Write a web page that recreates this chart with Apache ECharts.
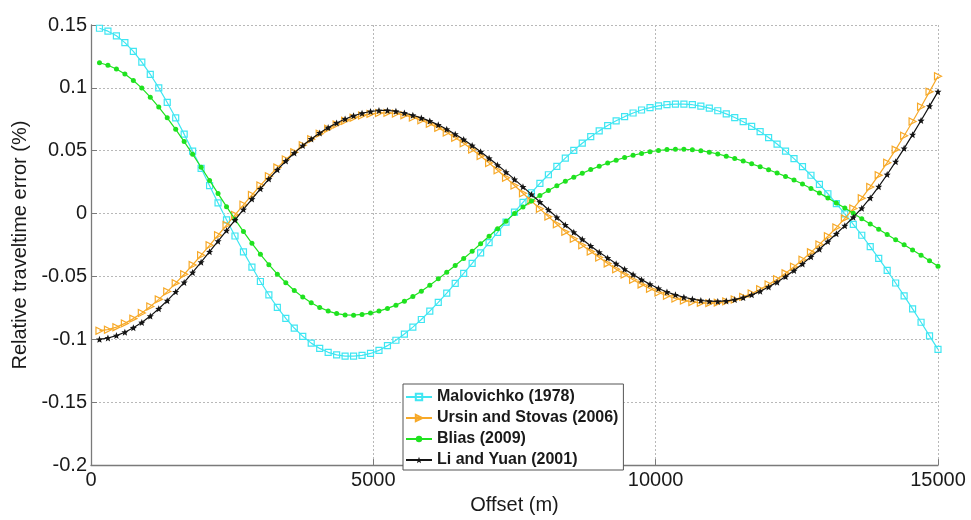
<!DOCTYPE html>
<html>
<head>
<meta charset="utf-8">
<title>Relative traveltime error</title>
<script src="https://cdn.jsdelivr.net/npm/echarts@6/dist/echarts.min.js"></script>
<style>
  html, body { margin: 0; padding: 0; background: #fff; overflow: hidden; }
  #chart { width: 971px; height: 520px; }
</style>
</head>
<body>
<div id="chart"></div>
<script>
// Offsets (m) at which each approximation was evaluated
const offsets = [
  150, 300, 450, 600, 750, 900, 1050, 1200, 1350, 1500,
  1650, 1800, 1950, 2100, 2250, 2400, 2550, 2700, 2850, 3000,
  3150, 3300, 3450, 3600, 3750, 3900, 4050, 4200, 4350, 4500,
  4650, 4800, 4950, 5100, 5250, 5400, 5550, 5700, 5850, 6000,
  6150, 6300, 6450, 6600, 6750, 6900, 7050, 7200, 7350, 7500,
  7650, 7800, 7950, 8100, 8250, 8400, 8550, 8700, 8850, 9000,
  9150, 9300, 9450, 9600, 9750, 9900, 10050, 10200, 10350, 10500,
  10650, 10800, 10950, 11100, 11250, 11400, 11550, 11700, 11850, 12000,
  12150, 12300, 12450, 12600, 12750, 12900, 13050, 13200, 13350, 13500,
  13650, 13800, 13950, 14100, 14250, 14400, 14550, 14700, 14850, 15000
];

// Relative traveltime error (%) for each approximation
const malovichko = [
  0.1474, 0.1451, 0.1414, 0.1360, 0.1290, 0.1205, 0.1108, 0.1000, 0.0884, 0.0761,
  0.0632, 0.0497, 0.0360, 0.0222, 0.0085, -0.0049, -0.0178, -0.0304, -0.0425, -0.0540,
  -0.0647, -0.0745, -0.0833, -0.0910, -0.0976, -0.1030, -0.1072, -0.1103, -0.1123, -0.1133,
  -0.1134, -0.1127, -0.1112, -0.1088, -0.1050, -0.1007, -0.0958, -0.0903, -0.0842, -0.0776,
  -0.0706, -0.0632, -0.0555, -0.0476, -0.0395, -0.0313, -0.0231, -0.0149, -0.0068, 0.0012,
  0.0090, 0.0166, 0.0240, 0.0309, 0.0376, 0.0441, 0.0503, 0.0560, 0.0612, 0.0658,
  0.0700, 0.0738, 0.0771, 0.0800, 0.0824, 0.0843, 0.0857, 0.0866, 0.0871, 0.0871,
  0.0866, 0.0855, 0.0839, 0.0818, 0.0793, 0.0764, 0.0731, 0.0694, 0.0652, 0.0605,
  0.0553, 0.0497, 0.0437, 0.0373, 0.0305, 0.0233, 0.0158, 0.0080, -0.0002, -0.0086,
  -0.0172, -0.0262, -0.0356, -0.0452, -0.0552, -0.0654, -0.0758, -0.0864, -0.0972, -0.1080
];

const ursinStovas = [
  -0.0931, -0.0923, -0.0903, -0.0873, -0.0835, -0.0790, -0.0739, -0.0682, -0.0620, -0.0553,
  -0.0482, -0.0408, -0.0331, -0.0252, -0.0172, -0.0091, -0.0010, 0.0070, 0.0148, 0.0224,
  0.0297, 0.0366, 0.0430, 0.0489, 0.0543, 0.0592, 0.0636, 0.0675, 0.0709, 0.0738,
  0.0762, 0.0780, 0.0793, 0.0800, 0.0801, 0.0796, 0.0783, 0.0765, 0.0742, 0.0714,
  0.0682, 0.0645, 0.0604, 0.0559, 0.0510, 0.0458, 0.0403, 0.0345, 0.0285, 0.0224,
  0.0162, 0.0100, 0.0038, -0.0024, -0.0085, -0.0145, -0.0200, -0.0252, -0.0302, -0.0349,
  -0.0396, -0.0442, -0.0485, -0.0526, -0.0563, -0.0597, -0.0627, -0.0653, -0.0675, -0.0692,
  -0.0703, -0.0710, -0.0712, -0.0708, -0.0698, -0.0683, -0.0662, -0.0635, -0.0602, -0.0564,
  -0.0522, -0.0475, -0.0423, -0.0367, -0.0308, -0.0245, -0.0180, -0.0111, -0.0038, 0.0040,
  0.0123, 0.0212, 0.0306, 0.0405, 0.0509, 0.0619, 0.0733, 0.0850, 0.0970, 0.1092
];

const blias = [
  0.1200, 0.1180, 0.1150, 0.1110, 0.1059, 0.0998, 0.0926, 0.0847, 0.0762, 0.0670,
  0.0573, 0.0472, 0.0369, 0.0264, 0.0159, 0.0055, -0.0046, -0.0143, -0.0236, -0.0324,
  -0.0406, -0.0482, -0.0550, -0.0611, -0.0664, -0.0709, -0.0746, -0.0775, -0.0795, -0.0806,
  -0.0808, -0.0802, -0.0791, -0.0775, -0.0754, -0.0728, -0.0697, -0.0660, -0.0618, -0.0570,
  -0.0519, -0.0466, -0.0412, -0.0357, -0.0300, -0.0240, -0.0180, -0.0120, -0.0060, 0.0000,
  0.0052, 0.0100, 0.0144, 0.0184, 0.0221, 0.0257, 0.0290, 0.0321, 0.0350, 0.0377,
  0.0402, 0.0425, 0.0446, 0.0464, 0.0479, 0.0492, 0.0502, 0.0509, 0.0512, 0.0512,
  0.0508, 0.0500, 0.0489, 0.0474, 0.0457, 0.0438, 0.0418, 0.0396, 0.0373, 0.0349,
  0.0323, 0.0296, 0.0267, 0.0235, 0.0200, 0.0163, 0.0125, 0.0085, 0.0044, 0.0002,
  -0.0040, -0.0083, -0.0125, -0.0166, -0.0207, -0.0247, -0.0289, -0.0331, -0.0374, -0.0418
];

const liYuan = [
  -0.1000, -0.0989, -0.0970, -0.0943, -0.0908, -0.0866, -0.0815, -0.0757, -0.0692, -0.0622,
  -0.0547, -0.0468, -0.0386, -0.0303, -0.0219, -0.0135, -0.0051, 0.0033, 0.0116, 0.0197,
  0.0275, 0.0349, 0.0418, 0.0482, 0.0541, 0.0594, 0.0642, 0.0684, 0.0721, 0.0752,
  0.0778, 0.0798, 0.0812, 0.0820, 0.0821, 0.0814, 0.0800, 0.0782, 0.0761, 0.0736,
  0.0706, 0.0671, 0.0632, 0.0589, 0.0542, 0.0492, 0.0440, 0.0386, 0.0330, 0.0272,
  0.0213, 0.0153, 0.0092, 0.0031, -0.0030, -0.0090, -0.0148, -0.0204, -0.0257, -0.0307,
  -0.0352, -0.0398, -0.0442, -0.0484, -0.0525, -0.0562, -0.0595, -0.0623, -0.0646, -0.0665,
  -0.0680, -0.0691, -0.0697, -0.0698, -0.0694, -0.0684, -0.0668, -0.0646, -0.0618, -0.0584,
  -0.0545, -0.0501, -0.0453, -0.0400, -0.0343, -0.0283, -0.0222, -0.0160, -0.0096, -0.0029,
  0.0043, 0.0125, 0.0214, 0.0311, 0.0413, 0.0519, 0.0628, 0.0740, 0.0855, 0.0970
];

const seriesNames = [
  'Malovichko (1978)',
  'Ursin and Stovas (2006)',
  'Blias (2009)',
  'Li and Yuan (2001)'
];

// Axis ranges and tick steps
const xTicks = [0, 5000, 10000, 15000];
const yTicks = [-0.2, -0.15, -0.1, -0.05, 0, 0.05, 0.1, 0.15];

const CYAN = '#3fe6f2';
const ORANGE = '#f7a928';
const GREEN = '#1fe21f';
const BLACK = '#141414';
const FONT = '"Liberation Sans", Arial, sans-serif';

function pairs(values) {
  return offsets.map((x, i) => [x, values[i]]);
}

const STAR = 'path://M0,-10 L2.6,-3.4 L9.5,-3.1 L4.2,1.3 L5.9,8.1 L0,4.3 L-5.9,8.1 L-4.2,1.3 L-9.5,-3.1 L-2.6,-3.4 Z';

const chart = echarts.init(document.getElementById('chart'), null, {
  renderer: 'canvas', width: 971, height: 520
});

chart.setOption({
  animation: false,
  backgroundColor: '#ffffff',
  grid: { left: 91, top: 25, width: 847, height: 449, containLabel: false },
  xAxis: {
    type: 'value',
    min: xTicks[0],
    max: xTicks[xTicks.length - 1],
    interval: xTicks[1] - xTicks[0],
    name: 'Offset (m)',
    nameLocation: 'middle',
    nameGap: 22,
    nameTextStyle: { fontFamily: FONT, fontSize: 20, color: '#1a1a1a' },
    axisLine: { show: true, onZero: false, lineStyle: { color: '#7a7a7a', width: 1.3 } },
    axisTick: { show: true, inside: true, length: 6, lineStyle: { color: '#7a7a7a' } },
    axisLabel: {
      fontFamily: FONT, fontSize: 20, color: '#1a1a1a', margin: 5,
      formatter: v => String(v)
    },
    splitLine: { show: true, lineStyle: { color: '#b8b8b8', type: [2, 2], width: 1 } }
  },
  yAxis: {
    type: 'value',
    min: yTicks[0],
    max: yTicks[yTicks.length - 1],
    interval: 0.05,
    name: 'Relative traveltime error (%)',
    nameLocation: 'middle',
    nameGap: 57,
    nameTextStyle: { fontFamily: FONT, fontSize: 20, color: '#1a1a1a' },
    axisLine: { show: true, onZero: false, lineStyle: { color: '#7a7a7a', width: 1.3 } },
    axisTick: { show: true, inside: true, length: 6, lineStyle: { color: '#7a7a7a' } },
    axisLabel: {
      fontFamily: FONT, fontSize: 20, color: '#1a1a1a', margin: 4,
      formatter: v => String(+v.toFixed(2))
    },
    splitLine: { show: true, lineStyle: { color: '#b8b8b8', type: [2, 2], width: 1 } }
  },
  legend: {
    orient: 'vertical',
    left: 403,
    top: 384,
    backgroundColor: '#ffffff',
    borderColor: '#555555',
    borderWidth: 1,
    borderRadius: 0,
    padding: [4, 5, 1, 2],
    itemGap: 3,
    itemWidth: 26,
    itemHeight: 8,
    textStyle: { fontFamily: FONT, fontSize: 16, fontWeight: 'bold', color: '#1a1a1a', lineHeight: 18 },
    data: seriesNames
  },
  series: [
    {
      name: seriesNames[0],
      type: 'line',
      data: pairs(malovichko),
      symbol: 'rect',
      symbolSize: 6,
      showAllSymbol: true,
      lineStyle: { color: CYAN, width: 1.2 },
      itemStyle: { color: 'rgba(255,255,255,0)', borderColor: CYAN, borderWidth: 1.2 },
      z: 2
    },
    {
      name: seriesNames[1],
      type: 'line',
      data: pairs(ursinStovas),
      symbol: 'triangle',
      symbolRotate: -90,
      symbolSize: 7,
      showAllSymbol: true,
      lineStyle: { color: ORANGE, width: 1.2 },
      itemStyle: { color: 'rgba(255,255,255,0)', borderColor: ORANGE, borderWidth: 1.2 },
      z: 3
    },
    {
      name: seriesNames[2],
      type: 'line',
      data: pairs(blias),
      symbol: 'circle',
      symbolSize: 5,
      showAllSymbol: true,
      lineStyle: { color: GREEN, width: 1.2 },
      itemStyle: { color: GREEN, borderWidth: 0 },
      z: 4
    },
    {
      name: seriesNames[3],
      type: 'line',
      data: pairs(liYuan),
      symbol: STAR,
      symbolSize: 7,
      showAllSymbol: true,
      lineStyle: { color: BLACK, width: 1.2 },
      itemStyle: { color: BLACK, borderWidth: 0 },
      z: 5
    }
  ]
});
</script>
</body>
</html>
